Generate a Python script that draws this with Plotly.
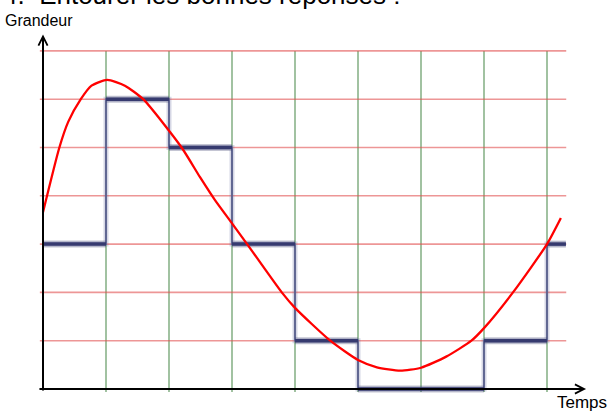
import plotly.graph_objects as go

# ---- data ----
grid_t = [1, 2, 3, 4, 5, 6, 7, 8]          # vertical (time) grid lines
grid_v = [1, 2, 3, 4, 5, 6, 7]             # horizontal (value) grid lines
step_t = [0, 1, 2, 3, 4, 5, 6, 7, 8]       # sampling instants
step_v = [3, 6, 5, 3, 1, 0, 0, 1, 3]       # quantised values
step_end = 8.3
curve_t = [0.0, 0.26, 0.40, 0.6, 0.77, 1.02, 1.3, 1.59, 2.2, 2.49, 2.73, 3.0,
           3.24, 3.79, 4.0, 4.56, 5.0, 5.3, 5.67, 6.0, 6.4, 6.8, 7.0, 7.46, 8.0, 8.22]
curve_v = [3.66, 5.0, 5.53, 6.0, 6.28, 6.4, 6.28, 6.0, 5.0, 4.39, 3.91, 3.43,
           3.0, 2.0, 1.68, 1.0, 0.6, 0.45, 0.38, 0.44, 0.67, 1.0, 1.26, 2.0, 3.0, 3.54]

W, H = 610, 412
X0_PX, X_UNIT = 43, 63.0
Y0_PX, Y_UNIT = 389, 48.3
x0 = -X0_PX / X_UNIT
y0 = -(H - Y0_PX) / Y_UNIT
xr = [x0, x0 + W / X_UNIT]
yr = [y0, y0 + H / Y_UNIT]

fig = go.Figure()

# grid lines
gx, gy = [], []
for t in grid_t:
    gx += [t, t, None]
    gy += [-0.06, max(grid_v), None]
fig.add_trace(go.Scatter(x=gx, y=gy, mode="lines",
                         line=dict(color="rgba(70,135,70,0.85)", width=1.2),
                         hoverinfo="skip", showlegend=False))
hx, hy = [], []
for v in grid_v:
    hx += [-0.05, step_end + 0.005, None]
    hy += [v, v, None]
fig.add_trace(go.Scatter(x=hx, y=hy, mode="lines",
                         line=dict(color="rgba(225,80,80,0.6)", width=1.6),
                         hoverinfo="skip", showlegend=False))

# step signal
sx = step_t + [step_end]
sy = step_v + [step_v[-1]]
fig.add_trace(go.Scatter(x=sx, y=sy, mode="lines", line_shape="hv",
                         line=dict(color="rgba(90,95,150,0.25)", width=5),
                         hoverinfo="skip", showlegend=False))
fig.add_trace(go.Scatter(x=sx, y=sy, mode="lines", line_shape="hv",
                         line=dict(color="#5d6191", width=1.8),
                         hoverinfo="skip", showlegend=False))
bx, by = [], []
for i, v in enumerate(step_v):
    t1 = step_t[i + 1] if i + 1 < len(step_t) else step_end
    bx += [step_t[i], t1, None]
    by += [v, v, None]
fig.add_trace(go.Scatter(x=bx, y=by, mode="lines",
                         line=dict(color="rgba(60,62,110,0.3)", width=7),
                         hoverinfo="skip", showlegend=False))
fig.add_trace(go.Scatter(x=bx, y=by, mode="lines",
                         line=dict(color="#363a6f", width=3.5),
                         hoverinfo="skip", showlegend=False))

# analog curve
fig.add_trace(go.Scatter(x=curve_t, y=curve_v, mode="lines", line_shape="spline",
                         line=dict(color="#ff0000", width=2.3, smoothing=0.6),
                         hoverinfo="skip", showlegend=False))

# axes with arrows
fig.add_annotation(x=8.62, y=0, ax=-0.08, ay=0, xref="x", yref="y", axref="x", ayref="y",
                   showarrow=True, arrowhead=5, arrowwidth=2, arrowsize=0.9,
                   arrowcolor="black", text="")
fig.add_annotation(x=0, y=7.34, ax=0, ay=-0.06, xref="x", yref="y", axref="x", ayref="y",
                   showarrow=True, arrowhead=5, arrowwidth=2, arrowsize=0.9,
                   arrowcolor="black", text="")

# texts
fig.add_annotation(x=3 / W, y=1 - 10 / H, xref="paper", yref="paper",
                   xanchor="left", yanchor="top", showarrow=False,
                   text="Grandeur", font=dict(family="Liberation Sans", size=16, color="black"))
fig.add_annotation(x=555 / W, y=1 - 391 / H, xref="paper", yref="paper",
                   xanchor="left", yanchor="top", showarrow=False,
                   text="Temps", font=dict(family="Liberation Sans", size=17, color="black"))
fig.add_annotation(x=1 / W, y=1 - 12 / H, xref="paper", yref="paper",
                   xanchor="left", yanchor="bottom", showarrow=False,
                   text="4.  Entourer les bonnes réponses :",
                   font=dict(family="Liberation Sans", size=26, color="black"))

fig.update_xaxes(range=xr, visible=False, fixedrange=True)
fig.update_yaxes(range=yr, visible=False, fixedrange=True)
fig.update_layout(width=W, height=H, margin=dict(l=0, r=0, t=0, b=0),
                  plot_bgcolor="white", paper_bgcolor="white", showlegend=False)

fig.write_html("out.html", config={"displayModeBar": False},
               post_script="document.body.style.margin='0';")
